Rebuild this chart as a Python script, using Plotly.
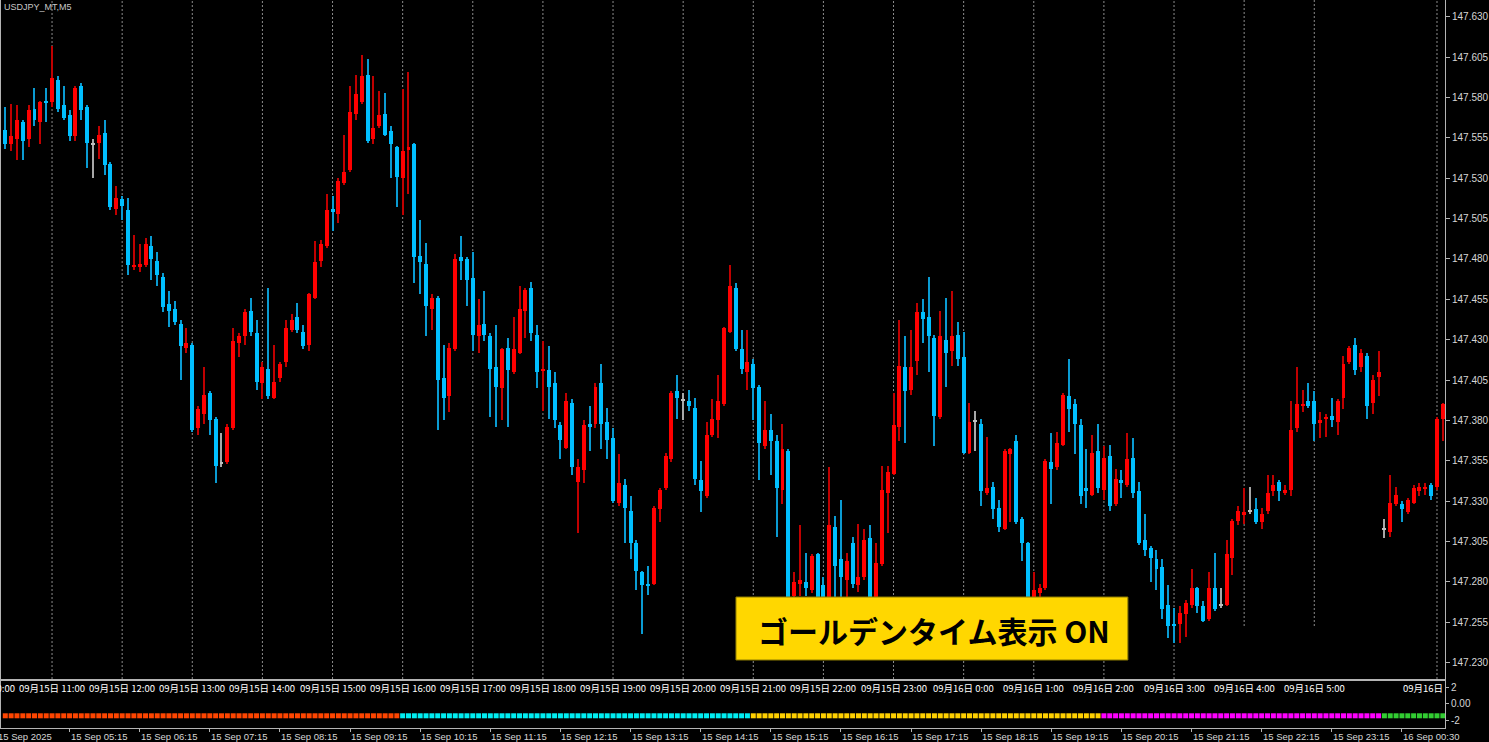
import plotly.graph_objects as go

# ---------------- data (USDJPY M5, bar index 0 = 09/15 10:20 JST) ----------------
opens = [
    147.560,147.551,147.554,147.565,147.554,147.573,147.565,147.578,147.577,147.591,
    147.575,147.569,147.556,147.587,147.574,147.551,147.552,147.558,147.539,147.511,
    147.517,147.510,147.475,147.475,147.476,147.488,147.479,147.469,147.452,147.449,
    147.440,147.425,147.427,147.375,147.384,147.397,147.381,147.354,147.354,147.375,
    147.428,147.432,147.448,147.434,147.403,147.412,147.394,147.406,147.416,147.436,
    147.444,147.435,147.427,147.456,147.479,147.488,147.511,147.508,147.527,147.535,
    147.570,147.577,147.594,147.554,147.562,147.570,147.559,147.549,147.530,147.548,
    147.551,147.482,147.477,147.449,147.456,147.406,147.395,147.424,147.481,147.480,
    147.468,147.432,147.440,147.432,147.413,147.400,147.425,147.410,147.422,147.448,
    147.462,147.433,147.411,147.411,147.403,147.377,147.363,147.391,147.342,147.349,
    147.378,147.378,147.403,147.379,147.369,147.329,147.340,147.324,147.304,147.286,
    147.279,147.279,147.325,147.338,147.356,147.398,147.393,147.392,147.388,147.343,
    147.333,147.371,147.380,147.390,147.435,147.462,147.424,147.410,147.415,147.401,
    147.364,147.374,147.367,147.337,147.361,147.271,147.279,147.280,147.275,147.297,
    147.278,147.269,147.314,147.294,147.281,147.304,147.278,147.283,147.307,147.269,
    147.291,147.335,147.347,147.376,147.413,147.399,147.417,147.447,147.444,147.431,
    147.382,147.430,147.423,147.433,147.419,147.360,147.380,147.378,147.335,147.339,
    147.326,147.313,147.359,147.367,147.319,147.304,147.268,147.273,147.276,147.354,
    147.351,147.365,147.395,147.390,147.377,147.338,147.334,147.361,147.337,147.358,
    147.328,147.343,147.340,147.357,147.336,147.306,147.301,147.294,147.289,147.266,
    147.254,147.254,147.260,147.266,147.276,147.265,147.257,147.276,147.266,147.266,
    147.295,147.318,147.322,147.324,147.325,147.317,147.324,147.336,147.342,147.335,
    147.337,147.375,147.389,147.392,147.392,147.379,147.381,147.383,147.379,147.394,
    147.416,147.427,147.413,147.420,147.391,147.407,147.313,147.311,147.328,147.328,
    147.323,147.329,147.336,147.338,147.340,147.339,147.381,
]
highs = [
    147.574,147.576,147.575,147.566,147.575,147.586,147.578,147.586,147.612,147.593,
    147.587,147.572,147.587,147.589,147.575,147.554,147.562,147.566,147.540,147.525,
    147.519,147.518,147.495,147.489,147.493,147.494,147.484,147.471,147.460,147.454,
    147.442,147.437,147.428,147.389,147.413,147.398,147.382,147.372,147.378,147.437,
    147.434,147.449,147.456,147.442,147.416,147.462,147.427,147.416,147.442,147.446,
    147.453,147.439,147.459,147.491,147.492,147.520,147.519,147.530,147.557,147.587,
    147.594,147.606,147.604,147.593,147.584,147.583,147.562,147.550,147.585,147.596,
    147.552,147.504,147.490,147.458,147.457,147.427,147.428,147.483,147.494,147.481,
    147.484,147.455,147.460,147.434,147.439,147.425,147.431,147.444,147.463,147.462,
    147.466,147.439,147.429,147.426,147.410,147.379,147.397,147.393,147.356,147.380,
    147.389,147.403,147.415,147.388,147.375,147.359,147.344,147.333,147.306,147.287,
    147.290,147.327,147.338,147.360,147.398,147.408,147.397,147.399,147.394,147.355,
    147.379,147.393,147.408,147.438,147.476,147.465,147.436,147.436,147.418,147.402,
    147.392,147.384,147.371,147.378,147.362,147.286,147.315,147.298,147.297,147.298,
    147.283,147.351,147.321,147.331,147.298,147.308,147.316,147.313,147.315,147.304,
    147.352,147.352,147.397,147.442,147.432,147.436,147.453,147.455,147.469,147.433,
    147.448,147.456,147.460,147.441,147.435,147.391,147.386,147.381,147.370,147.342,
    147.331,147.362,147.363,147.371,147.320,147.305,147.286,147.279,147.356,147.372,
    147.373,147.397,147.418,147.393,147.381,147.362,147.371,147.378,147.364,147.365,
    147.350,147.349,147.372,147.369,147.342,147.322,147.302,147.300,147.294,147.278,
    147.264,147.265,147.269,147.288,147.277,147.268,147.286,147.298,147.276,147.306,
    147.319,147.327,147.338,147.339,147.332,147.326,147.346,147.346,147.343,147.340,
    147.392,147.413,147.399,147.403,147.398,147.385,147.384,147.394,147.393,147.420,
    147.426,147.431,147.424,147.422,147.408,147.423,147.319,147.346,147.339,147.330,
    147.332,147.340,147.341,147.341,147.341,147.382,147.391,
]
lows = [
    147.548,147.547,147.541,147.541,147.549,147.562,147.551,147.565,147.574,147.571,
    147.566,147.553,147.553,147.566,147.536,147.530,147.542,147.532,147.510,147.507,
    147.504,147.470,147.473,147.472,147.475,147.467,147.463,147.447,147.438,147.439,
    147.405,147.422,147.373,147.371,147.378,147.371,147.341,147.351,147.353,147.374,
    147.419,147.427,147.432,147.399,147.393,147.393,147.393,147.404,147.413,147.435,
    147.434,147.424,147.423,147.455,147.475,147.487,147.497,147.502,147.526,147.534,
    147.566,147.576,147.552,147.551,147.561,147.556,147.530,147.512,147.507,147.520,
    147.465,147.458,147.432,147.436,147.374,147.380,147.385,147.423,147.467,147.451,
    147.423,147.422,147.429,147.382,147.376,147.380,147.376,147.409,147.421,147.431,
    147.429,147.400,147.386,147.381,147.375,147.356,147.362,147.346,147.310,147.341,
    147.361,147.375,147.362,147.356,147.329,147.327,147.304,147.294,147.275,147.248,
    147.272,147.278,147.317,147.337,147.354,147.381,147.380,147.386,147.340,147.323,
    147.332,147.370,147.369,147.389,147.434,147.423,147.409,147.399,147.380,147.343,
    147.362,147.346,147.308,147.328,147.257,147.266,147.271,147.271,147.273,147.264,
    147.265,147.267,147.269,147.269,147.270,147.276,147.274,147.281,147.263,147.267,
    147.290,147.310,147.346,147.367,147.366,147.396,147.408,147.428,147.410,147.364,
    147.381,147.401,147.414,147.414,147.359,147.359,147.361,147.327,147.334,147.319,
    147.311,147.312,147.317,147.316,147.293,147.266,147.266,147.269,147.275,147.328,
    147.349,147.364,147.373,147.359,147.328,147.326,147.333,147.335,147.331,147.324,
    147.327,147.332,147.339,147.332,147.303,147.296,147.280,147.275,147.257,147.245,
    147.242,147.242,147.246,147.264,147.261,147.255,147.256,147.262,147.264,147.265,
    147.284,147.315,147.316,147.322,147.316,147.313,147.322,147.333,147.330,147.334,
    147.333,147.373,147.385,147.388,147.367,147.369,147.370,147.376,147.371,147.387,
    147.415,147.408,147.410,147.381,147.384,147.395,147.307,147.308,147.327,147.317,
    147.322,147.328,147.333,147.334,147.331,147.337,147.367,
]
closes = [
    147.551,147.556,147.566,147.553,147.572,147.566,147.577,147.577,147.592,147.573,
    147.567,147.556,147.586,147.572,147.552,147.551,147.557,147.538,147.512,147.518,
    147.513,147.476,147.476,147.477,147.489,147.480,147.470,147.450,147.448,147.441,
    147.426,147.428,147.374,147.387,147.396,147.380,147.352,147.354,147.376,147.429,
    147.432,147.447,147.435,147.404,147.413,147.395,147.404,147.415,147.437,147.442,
    147.436,147.426,147.458,147.478,147.489,147.510,147.509,147.528,147.534,147.571,
    147.582,147.593,147.553,147.561,147.569,147.557,147.551,147.531,147.547,147.549,
    147.481,147.478,147.451,147.456,147.405,147.394,147.425,147.480,147.479,147.467,
    147.433,147.439,147.433,147.412,147.401,147.424,147.411,147.424,147.449,147.461,
    147.434,147.410,147.412,147.401,147.380,147.368,147.392,147.351,147.351,147.377,
    147.376,147.401,147.378,147.368,147.330,147.341,147.326,147.304,147.287,147.278,
    147.278,147.326,147.337,147.358,147.397,147.394,147.393,147.389,147.344,147.336,
    147.371,147.381,147.392,147.437,147.463,147.424,147.412,147.416,147.400,147.366,
    147.374,147.367,147.338,147.362,147.262,147.280,147.281,147.276,147.296,147.267,
    147.269,147.315,147.290,147.283,147.293,147.279,147.283,147.306,147.266,147.292,
    147.337,147.348,147.377,147.414,147.398,147.413,147.447,147.443,147.432,147.383,
    147.432,147.422,147.432,147.418,147.360,147.379,147.380,147.336,147.338,147.325,
    147.314,147.361,147.362,147.317,147.304,147.269,147.275,147.276,147.355,147.350,
    147.366,147.396,147.387,147.378,147.333,147.336,147.360,147.338,147.357,147.327,
    147.344,147.341,147.356,147.335,147.304,147.300,147.295,147.288,147.263,147.253,
    147.253,147.261,147.267,147.276,147.265,147.256,147.276,147.263,147.266,147.297,
    147.318,147.324,147.323,147.324,147.317,147.322,147.335,147.340,147.336,147.337,
    147.374,147.390,147.390,147.389,147.378,147.380,147.382,147.380,147.392,147.415,
    147.425,147.411,147.422,147.389,147.405,147.410,147.313,147.329,147.334,147.325,
    147.331,147.338,147.339,147.339,147.333,147.381,147.390,
]

price_ticks = [147.230, 147.255, 147.280, 147.305, 147.330, 147.355, 147.380, 147.405,
               147.430, 147.455, 147.480, 147.505, 147.530, 147.555, 147.580, 147.605, 147.630]

jst_hour_bars = [8, 20, 32, 44, 56, 68, 80, 92, 104, 116, 128, 140, 152, 164, 176, 188, 200, 212, 224]
jst_hour_labels = ["09月15日 11:00", "09月15日 12:00", "09月15日 13:00", "09月15日 14:00",
                   "09月15日 15:00", "09月15日 16:00", "09月15日 17:00", "09月15日 18:00",
                   "09月15日 19:00", "09月15日 20:00", "09月15日 21:00", "09月15日 22:00",
                   "09月15日 23:00", "09月16日 0:00", "09月16日 1:00", "09月16日 2:00",
                   "09月16日 3:00", "09月16日 4:00", "09月16日 5:00"]
last_hour_bar = 245
short_line_bars = [212, 224]

server_tick_bars = [11, 23, 35, 47, 59, 71, 83, 95, 107, 119, 131, 143, 155, 167, 179,
                    191, 203, 215, 227, 239]
server_tick_labels = ["15 Sep 05:15", "15 Sep 06:15", "15 Sep 07:15", "15 Sep 08:15",
                      "15 Sep 09:15", "15 Sep 10:15", "15 Sep 11:15", "15 Sep 12:15",
                      "15 Sep 13:15", "15 Sep 14:15", "15 Sep 15:15", "15 Sep 16:15",
                      "15 Sep 17:15", "15 Sep 18:15", "15 Sep 19:15", "15 Sep 20:15",
                      "15 Sep 21:15", "15 Sep 22:15", "15 Sep 23:15", "16 Sep 00:30"]

session_start_bars = [0, 68, 128, 188, 236]
session_colors = ["#FF4500", "#00EEF2", "#FFD000", "#FF00FF", "#32CD32"]
session_level = -1.4

# ---------------- geometry ----------------
W, H = 1489, 742
ML, MR, MT, MB = 0, 41, 0, 14
PH = H - MT - MB          # 728 plot-area height
MAIN_BOTTOM = 679
SUB_TOP = 681

def py(pix):
    return (PH - pix) / PH

n = len(opens)
xs = list(range(n))

UP_BODY, DN_BODY, DOJI = "#FF0000", "#00BFFF", "#C0C0C0"
UP_WICK, DN_WICK, DOJI_WICK = "#C00000", "#0A9BD2", "#A8A8A8"

body_base, body_h, body_col, wick_col = [], [], [], []
for o, c in zip(opens, closes):
    if c > o:
        body_col.append(UP_BODY); wick_col.append(UP_WICK)
    elif c < o:
        body_col.append(DN_BODY); wick_col.append(DN_WICK)
    else:
        body_col.append(DOJI); wick_col.append(DOJI_WICK)
    lo_b = min(o, c)
    h = abs(c - o)
    if h < 0.0008:
        lo_b = (o + c) / 2 - 0.0004
        h = 0.0008
    body_base.append(lo_b)
    body_h.append(h)

fig = go.Figure()

# wicks (thin bars)
fig.add_trace(go.Bar(
    x=xs, base=lows, y=[h - l for h, l in zip(highs, lows)], width=0.18,
    marker=dict(color=wick_col, line=dict(width=0)), hoverinfo="skip",
    xaxis="x", yaxis="y", showlegend=False))
# bodies
fig.add_trace(go.Bar(
    x=xs, base=body_base, y=body_h, width=0.68,
    marker=dict(color=body_col, line=dict(width=0)), hoverinfo="skip",
    xaxis="x", yaxis="y", showlegend=False))

# session dots in sub-window
dot_colors = []
for i in range(n):
    k = 0
    for j, s in enumerate(session_start_bars):
        if i >= s:
            k = j
    dot_colors.append(session_colors[k])
fig.add_trace(go.Scatter(
    x=xs, y=[session_level] * n, mode="markers",
    marker=dict(symbol="square", size=5, color=dot_colors, line=dict(width=0)),
    hoverinfo="skip", xaxis="x2", yaxis="y2", showlegend=False))

xr = [-0.734, 246.37]
axis_col = "#B4B4B4"
lbl_col = "#D6D6D6"

# dotted hour lines
shapes = []
for b in jst_hour_bars + [last_hour_bar]:
    y0 = py(626) if b in short_line_bars else py(MAIN_BOTTOM)
    shapes.append(dict(type="line", xref="x", yref="paper", x0=b, x1=b, y0=y0, y1=1,
                       line=dict(color="#8C8C8C", width=1, dash="2px,2px"), layer="below"))

# golden-time banner
shapes.append(dict(type="rect", xref="paper", yref="paper",
                   x0=737 / 1448, x1=1130 / 1448, y0=py(660), y1=py(597),
                   fillcolor="#FFD700", line=dict(color="#8C7A00", width=1), layer="above"))

top_font = dict(family="Noto Sans CJK JP", size=9.5, color="#FFFFFF")
bot_font = dict(family="Liberation Sans", size=9.5, color=lbl_col)

annotations = [
    dict(text="USDJPY_MT,M5", xref="paper", yref="paper", x=0, y=py(7), xshift=1,
         xanchor="left", yanchor="middle", showarrow=False,
         font=dict(family="Liberation Sans", size=9, color="#C8C8C8")),
    dict(text="<b>ゴールデンタイム表示 ON</b>", xref="paper", yref="paper",
         x=936 / 1448, y=py(630), xanchor="center", yanchor="middle", showarrow=False,
         font=dict(family="Noto Sans CJK JP", size=30, color="#000000")),
    dict(text="09月15日 10:00", xref="paper", yref="paper", x=-19 / 1448, y=py(688),
         xanchor="center", yanchor="middle", showarrow=False, font=top_font),
    dict(text="09月16日", xref="paper", yref="paper", x=1448 / 1448, y=py(688),
         xanchor="right", yanchor="middle", showarrow=False, font=top_font),
    dict(text="15 Sep 2025", xref="paper", yref="paper", x=0, y=py(736), xshift=-5,
         xanchor="left", yanchor="middle", showarrow=False, font=bot_font),
]
for b, t in zip(jst_hour_bars, jst_hour_labels):
    annotations.append(dict(text=t, xref="x", yref="paper", x=b, y=py(688),
                            xanchor="center", yanchor="middle", showarrow=False,
                            font=top_font))
for b, t in zip(server_tick_bars, server_tick_labels):
    annotations.append(dict(text=t, xref="x2", yref="paper", x=b, y=py(736), xshift=-1,
                            xanchor="left", yanchor="middle", showarrow=False,
                            font=bot_font))

fig.update_layout(
    width=W, height=H, margin=dict(l=ML, r=MR, t=MT, b=MB, pad=0),
    paper_bgcolor="#000000", plot_bgcolor="#000000",
    barmode="overlay", bargap=0, showlegend=False,
    shapes=shapes, annotations=annotations,
    xaxis=dict(domain=[0, 1], range=xr, anchor="y", showticklabels=False, ticks="",
               showgrid=False, zeroline=False, showline=True, linecolor=axis_col,
               linewidth=1, fixedrange=True),
    yaxis=dict(domain=[py(MAIN_BOTTOM), 1], range=[147.2199, 147.6403], side="right",
               tickvals=price_ticks, ticktext=[f"{v:.3f}" for v in price_ticks],
               ticks="outside", ticklen=4, tickcolor=axis_col,
               tickfont=dict(family="Liberation Sans", size=10, color=lbl_col),
               showgrid=False, zeroline=False, showline=True, linecolor=axis_col,
               mirror=True, linewidth=1, fixedrange=True),
    xaxis2=dict(domain=[0, 1], range=xr, anchor="y2", tickvals=server_tick_bars,
                showticklabels=False, ticks="outside", ticklen=3, tickcolor=axis_col,
                showgrid=False, zeroline=False, showline=True, linecolor=axis_col,
                mirror=True, linewidth=1, fixedrange=True),
    yaxis2=dict(domain=[0, py(SUB_TOP)], range=[-2.85, 2.73], side="right", anchor="x2",
                tickvals=[2, 0, -2], ticktext=["2", "0.00", "-2"],
                ticks="outside", ticklen=3, tickcolor=axis_col,
                tickfont=dict(family="Liberation Sans", size=10, color=lbl_col),
                showgrid=False, zeroline=False, showline=True, linecolor=axis_col,
                mirror=True, linewidth=1, fixedrange=True),
)

fig.write_html(
    "out.html",
    config={"displayModeBar": False},
    post_script="document.body.style.margin='0';document.body.style.padding='0';"
                "document.body.style.overflow='hidden';"
                "document.body.style.background='#000';",
)
